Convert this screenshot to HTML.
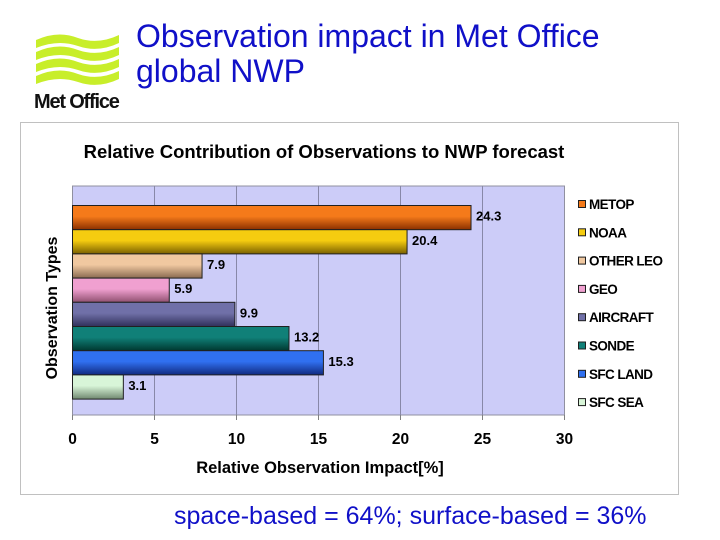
<!DOCTYPE html>
<html><head><meta charset="utf-8">
<style>
body{margin:0;width:720px;height:540px;background:#fff;overflow:hidden;position:relative;font-family:"Liberation Sans",sans-serif}
.t{position:absolute;color:#1010c8;font-size:32px;line-height:35px}
</style></head>
<body>
<svg style="position:absolute;left:33px;top:30px" width="92" height="82" viewBox="0 0 92 82">
 <g fill="#c8ee2a">
  <path d="M3 10 Q25 0 45 8 Q65 15 86 5 L86 13 Q65 23 45 16 Q25 9 3 18Z"/>
  <path d="M3 22 Q25 12 45 20 Q65 27 86 17 L86 25 Q65 35 45 28 Q25 21 3 30Z"/>
  <path d="M3 34 Q25 24 45 32 Q65 39 86 29 L86 37 Q65 47 45 40 Q25 33 3 42Z"/>
  <path d="M3 46 Q25 36 45 44 Q65 51 86 41 L86 49 Q65 59 45 52 Q25 45 3 54Z"/>
 </g>
 <text x="1" y="78" font-family="Liberation Sans,sans-serif" font-size="20" font-weight="bold" letter-spacing="-1.2" fill="#111">Met Office</text>
</svg>
<div class="t" style="left:136px;top:19px">Observation impact in Met Office<br>global NWP</div>
<svg id="chart" style="position:absolute;left:0;top:0" width="720" height="540"></svg>
<div style="position:absolute;left:174px;top:502px;font-size:25px;color:#1010c8">space-based = 64%; surface-based = 36%</div>
<script>
const categories=["METOP","NOAA","OTHER LEO","GEO","AIRCRAFT","SONDE","SFC LAND","SFC SEA"];
const values=[24.3,20.4,7.9,5.9,9.9,13.2,15.3,3.1];
const colors=[["#f57a1a","#8a3000"],["#f5cc10","#7a6000"],["#f0c8a0","#8a6a50"],["#f0a0d0","#905070"],["#7070a8","#30305a"],["#108078","#003830"],["#3070f0","#102a80"],["#d8f5d8","#708870"]];
const ticks=[0,5,10,15,20,25,30];
const NS="http://www.w3.org/2000/svg";
const svg=document.getElementById('chart');
const X0=72.5,X1=564.5,XMAX=30,PT=186,PB=415,BT=205.5,BH=24.2;
const xs=v=>X0+(X1-X0)*v/XMAX;
function el(t,a,txt){const e=document.createElementNS(NS,t);for(const k in a)e.setAttribute(k,a[k]);if(txt!=null)e.textContent=txt;svg.appendChild(e);return e;}
let e;
e=el('rect',{x:20.5,y:122.5,width:658,height:372,fill:'#fff',stroke:'#c0c0c0'});

e=el('text',{x:324,y:158,'text-anchor':'middle','font-size':18.5,'font-weight':'bold',fill:'#000'},'Relative Contribution of Observations to NWP forecast');

e=el('rect',{x:X0,y:PT,width:X1-X0,height:PB-PT,fill:'#ccccf8',stroke:'#9090a0'});

const defs=el('defs',{});
ticks.forEach(t=>{
 const x=xs(t);
 if(t>0&&t<XMAX){e=el('line',{x1:x,x2:x,y1:PT,y2:PB,stroke:'#8888a8','stroke-width':1});
 }
 e=el('line',{x1:x,x2:x,y1:PB,y2:PB+5,stroke:'#808080'});
 
 e=el('text',{x:x,y:444,'text-anchor':'middle','font-size':15.5,'font-weight':'bold'},String(t));
 
});
categories.forEach((c,i)=>{
 const g=document.createElementNS(NS,'linearGradient');g.setAttribute('id','g'+i);g.setAttribute('x1',0);g.setAttribute('x2',0);g.setAttribute('y1',0);g.setAttribute('y2',1);
 [[0,colors[i][0]],[0.45,colors[i][0]],[1,colors[i][1]]].forEach(s=>{const st=document.createElementNS(NS,'stop');st.setAttribute('offset',s[0]);st.setAttribute('stop-color',s[1]);g.appendChild(st);});
 defs.appendChild(g);
 const y=BT+i*BH;
 e=el('rect',{x:X0,y:y,width:xs(values[i])-X0,height:BH,fill:'url(#g'+i+')',stroke:'#202020','stroke-width':1});
 
 e=el('text',{x:xs(values[i])+5,y:y+BH/2+3,'font-size':13,'font-weight':'bold'},values[i].toFixed(1));
 
 const ly=205+i*28.3;
 e=el('rect',{x:578.5,y:ly-4.5,width:7,height:7,fill:colors[i][0],stroke:'#202020'});
 
 e=el('text',{x:589,y:ly+4,'font-size':13.5,'font-weight':'bold','letter-spacing':'-0.6'},c);
 
});
e=el('text',{x:320,y:473,'text-anchor':'middle','font-size':16.5,'font-weight':'bold'},'Relative Observation Impact[%]');

e=el('text',{x:0,y:0,'text-anchor':'middle','font-size':16,'font-weight':'bold',transform:'translate(57,308) rotate(-90)'},'Observation Types');

</script>
</body></html>
